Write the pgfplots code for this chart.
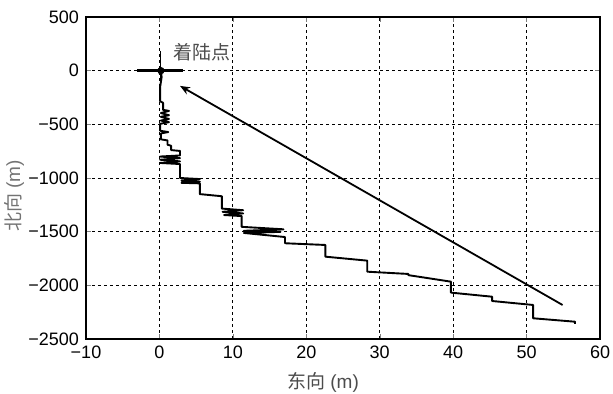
\documentclass[border=0pt]{standalone}
\usepackage{pgfplots}
\pgfplotsset{compat=1.18}
\usepackage{fontspec}
\setmainfont{Liberation Sans}
\newfontfamily\cjk{Noto Sans CJK SC}
\usetikzlibrary{arrows.meta}
\begin{document}
\begin{tikzpicture}
\begin{axis}[
  scale only axis, width=257pt, height=161pt,
  xmin=-10, xmax=60, ymin=-2500, ymax=500,
  xtick={-10,0,10,20,30,40,50,60},
  xticklabels={−10,0,10,20,30,40,50,60},
  ytick={-2500,-2000,-1500,-1000,-500,0,500},
  yticklabels={−2500,−2000,−1500,−1000,−500,0,500},
  tick label style={font=\fontsize{9}{10}\selectfont, black},
  tick align=inside, major tick length=2.5pt,
  grid=major,
  grid style={black, line width=0.4pt, dash pattern=on 1.5pt off 1.5pt},
  axis line style={black, line width=0.6pt},
  xlabel={{\cjk 东向} (m)}, ylabel={{\cjk 北向} (m)},
  xlabel style={at={(axis description cs:0.461,-0.134)}, anchor=center, font=\fontsize{9.5}{10}\selectfont, text=black!70},
  ylabel style={at={(axis description cs:-0.14,0.444)}, anchor=center, rotate=0, font=\fontsize{9.5}{10}\selectfont, text=black!55},
  clip=false,
]
\coordinate (SW) at (rel axis cs:0,0);
\coordinate (NE) at (rel axis cs:1,1);
% vertical thin line of landing marker
\addplot[black, line width=0.5pt] coordinates {(0.2,185) (0.2,-100)};
% horizontal bar of landing marker
\addplot[black, line width=1.4pt] coordinates {(-3.0,0) (3.2,0)};
\addplot[black, only marks, mark=*, mark size=1.6pt] coordinates {(0.2,0)};
% trajectory
\addplot[black, line width=0.95pt, line join=round] coordinates {
(0.2,0) (0.3,-60) (0.1,-150) (0.1,-285) (0.5,-300) (0.5,-365)
(1.3,-375) (0.2,-395) (1.3,-415) (0.2,-430) (1.3,-450) (0.2,-465) (1.3,-480) (0.1,-495)
(0.1,-560) (1.2,-572) (0.2,-585) (0.2,-640) (1.1,-650) (1.1,-690) (1.6,-700) (1.6,-740)
(2.8,-748) (2.8,-790) (0.1,-800) (2.8,-815) (0.1,-830) (2.8,-845) (0.1,-860) (2.8,-870)
(2.8,-1000) (5.5,-1010) (3.0,-1025) (5.5,-1035) (3.0,-1045) (5.5,-1050)
(5.5,-1150) (8.5,-1170) (8.5,-1285) (11.4,-1300) (8.6,-1315) (11.4,-1330) (8.8,-1345) (11.2,-1355)
(11.2,-1455) (16.9,-1478) (11.5,-1492) (16.5,-1502) (11.5,-1512) (17.1,-1550)
(17.1,-1608) (22.6,-1624) (22.6,-1733) (28.3,-1770) (28.3,-1873) (33.9,-1894) (33.9,-1905)
(39.7,-1966) (39.7,-2068) (45.3,-2106) (45.3,-2146) (50.9,-2183) (50.9,-2307) (56.6,-2339) (56.6,-2360)
};
% arrow
\addplot[black, line width=0.9pt, -{Stealth[length=5pt,width=4pt]}] coordinates {(54.9,-2183) (2.8,-142)};
\node[anchor=west, font=\fontsize{9.5}{10}\selectfont\cjk, text=black!70, inner sep=0pt] at (axis cs:1.8,175) {着陆点};
\end{axis}
\pgfresetboundingbox
\path[use as bounding box] ([xshift=-43pt,yshift=-27.5pt]SW) rectangle ([xshift=6.5pt,yshift=8.5pt]NE);
\end{tikzpicture}
\end{document}
